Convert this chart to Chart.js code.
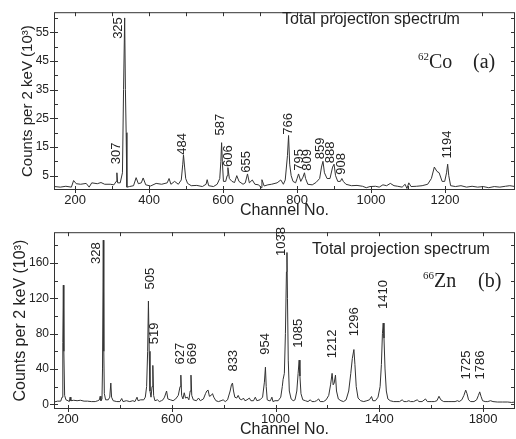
<!DOCTYPE html>
<html>
<head>
<meta charset="utf-8">
<script src="https://cdn.jsdelivr.net/npm/chart.js@4.4.0/dist/chart.umd.min.js"></script>
<style>
  body { margin: 0; background: #fff; }
  .panel { position: absolute; left: 0; width: 516px; }
  #co-wrap { top: 0; height: 220px; }
  #zn-wrap { top: 220px; height: 219px; }
</style>
</head>
<body>
<div class="panel" id="co-wrap"><canvas id="co-chart"></canvas></div>
<div class="panel" id="zn-wrap"><canvas id="zn-chart"></canvas></div>
<script>
// ---- panel (a): 62Co ----
const coChannels = [145,160,175,190,196,203,215,230,238,245,260,270,280,295,305,311,313,315,322,328,331,334,336,338,340,347,358,365,371,379,384,391,404,419,434,449,454,459,469,479,487,491,493,496,499,504,514,529,544,554,557,561,574,584,591,594,596,598,601,607,611,613,617,624,631,637,643,654,660,666,671,679,686,696,703,705,711,721,731,746,756,763,768,774,777,780,784,789,796,800,804,810,816,820,823,829,841,851,861,866,870,874,881,889,896,900,904,910,917,921,925,932,947,962,977,987,997,1012,1022,1032,1042,1052,1062,1072,1084,1092,1097,1102,1108,1123,1138,1153,1163,1171,1178,1184,1192,1199,1204,1207,1210,1215,1228,1243,1258,1273,1288,1303,1318,1333,1348,1363,1375,1389];
const coCounts = [1.2,1.0,1.3,1.0,3.3,2.2,2.0,2.3,1.0,2.5,2.2,2.6,2.0,2.0,1.8,3.0,6.0,2.5,2.5,6,35,60,35,20,1,1.2,1.5,4.3,2.2,2.5,4.2,1.8,1.4,2.3,2.0,2.5,4.0,2.0,3.0,2.0,3.5,9,12.2,8,4,2.3,1.5,1.6,1.2,2.0,3.6,1.5,1.2,2.0,4,10,16.5,10,3,3,5,7.8,4,3,2.6,5.0,3,2,2.5,5.6,2.5,3.5,2.0,1.8,0.8,3.6,1.4,1.8,2.0,2.5,3.5,2.0,3.5,12,19,9,5,3,2.5,4,5.6,3,4.5,6,4,2,1.8,2.6,4,8,10,6,4,4,8,9,5,3,3,4,3,2.0,1.5,1.6,1.3,0.8,1.2,1.3,1.0,1.8,1.5,2.3,1.5,1.3,1.0,2.0,0.5,2.5,1.2,1.3,1.5,2.0,4,8,6.5,6,3,3,6,9,5,1.5,1.2,1.5,1.0,1.3,1.0,1.2,0.8,1.2,1.0,1.3,1.5,1.2];
const coPeakLabels = ['307','325','484','587','606','655','766','795','809','859','888','908','1194'];
const coLabelChannel = [312,317,491,594,615,664,777,807,829,864,891,921,1207];
const coLabelCount = [9,52.7,12.3,19,8,6,19.3,6.7,6.7,10.7,9.3,5.3,11];
const coXTicks = [200,400,600,800,1000,1200];
const coYTicks = [5,15,25,35,45,55];
const coXMinor = [200,300,400,500,600,700,800,900,1000,1100,1200,1300];
const coYMinor = [5,10,15,20,25,30,35,40,45,50,55,60];

// ---- panel (b): 66Zn ----
const znChannels = [146,160,172,177,180,182,184,187,192,200,205,208,211,222,235,248,262,275,290,305,315,321,324,327,331,333,336,338,340,345,355,361,365,368,374,388,400,407,412,425,438,450,458,466,470,480,492,498,503,507,510,513,516,520,524,527,530,535,545,552,560,566,572,580,585,595,605,615,625,632,635,638,643,648,653,660,666,671,674,677,683,695,703,710,722,730,735,740,745,752,757,762,770,780,790,798,806,815,825,830,834,838,843,850,856,862,870,876,882,890,899,905,915,922,928,940,950,957,961,964,968,975,980,986,990,998,1010,1020,1026,1029,1034,1038,1042,1044,1046,1049,1053,1060,1068,1075,1082,1087,1091,1094,1098,1105,1115,1125,1134,1140,1150,1158,1166,1172,1185,1195,1205,1212,1218,1222,1226,1231,1235,1242,1252,1262,1272,1282,1290,1296,1302,1306,1311,1318,1328,1340,1352,1362,1370,1375,1385,1395,1403,1408,1412,1415,1418,1422,1427,1433,1442,1455,1468,1478,1488,1495,1505,1514,1520,1532,1546,1553,1565,1578,1585,1600,1612,1622,1630,1637,1648,1665,1680,1692,1701,1708,1718,1726,1733,1738,1744,1752,1765,1775,1782,1787,1792,1798,1808,1818,1829,1838,1855,1875,1895,1910,1923];
const znCounts = [2.5,3.5,3.5,8,70,135,60,10,5,4,3,8,4,4.5,4,4.5,3.5,3.5,3,3,4,5,9,4,6,40,186,60,12,5,5,8,24,8,4,3,3,6.5,3,4,3,4,3,8,4,5,5,8,20,60,117,60,15,8,20,44,10,4,5,3,4,5,8,15,6,5,4,6,10,20,33,10,6,13,7,8,5,15,33,10,5,4,7,4,6,12,15,16,9,10,12,8,4,3,4,5,3,5,15,22,24,15,8,7,10,6,5,7,4,5,7,4,4,8,4,5,8,25,42,20,5,4,4,8,3,4,4,8,20,28,35,80,150,172,120,50,15,6,4,5,15,35,50,32,12,5,4,3,5,3,3,4,6,3,3,5,10,22,35,22,24,33,15,6,4,3,5,15,35,52,62,45,20,7,4,3,4,5,8.7,4,4,8,20,45,80,92,75,40,15,6,4,3,3,3,5,3,3,4,3,3,5,3,3,6,3,3,3,4,9,5,3,3,3,3,4,3,5,10,16,12,5,3,3,5,10,14,9,4,3,3,4,3,2.5,2.5,2.5,2,2.5];
const znPeakLabels = ['328','505','519','627','669','833','954','1038','1085','1212','1296','1410','1725','1786'];
const znLabelChannel = [308,519,532,632,678,836,961,1021,1089,1218,1304,1417,1736,1791];
const znLabelCount = [159,130,68,45,45,37,56,168,64,52,77,108,28,28];
const znXTicks = [200,600,1000,1400,1800];
const znYTicks = [0,40,80,120,160];
const znXMinor = [200,400,600,800,1000,1200,1400,1600,1800];
const znYMinor = [0,20,40,60,80,100,120,140,160,180];

const SANS = '"Liberation Sans", Arial, sans-serif';
const SERIF = '"Liberation Serif", "Times New Roman", serif';
const INK = '#222';

// frame with ticks, peak labels and the in-plot captions
const spectrumDecor = {
  id: 'spectrumDecor',
  afterDraw(chart, args, o) {
    const {ctx, chartArea: a, scales: {x, y}} = chart;
    ctx.save();
    ctx.strokeStyle = '#333';
    ctx.lineWidth = 1;
    ctx.strokeRect(a.left + 0.5, a.top + 0.5, a.right - a.left - 1, a.bottom - a.top - 1);
    ctx.beginPath();
    // small inward ticks on all four sides
    o.xMinor.forEach(v => {
      const px = Math.round(x.getPixelForValue(v)) + 0.5;
      ctx.moveTo(px, a.top); ctx.lineTo(px, a.top + 4);
      ctx.moveTo(px, a.bottom); ctx.lineTo(px, a.bottom - 4);
    });
    o.yMinor.forEach(v => {
      const py = Math.round(y.getPixelForValue(v)) + 0.5;
      ctx.moveTo(a.left, py); ctx.lineTo(a.left + 4, py);
      ctx.moveTo(a.right, py); ctx.lineTo(a.right - 4, py);
    });
    // outward ticks at the labelled values
    x.ticks.forEach(t => {
      const px = Math.round(x.getPixelForValue(t.value)) + 0.5;
      ctx.moveTo(px, a.bottom); ctx.lineTo(px, a.bottom + 3);
    });
    y.ticks.forEach(t => {
      const py = Math.round(y.getPixelForValue(t.value)) + 0.5;
      ctx.moveTo(a.left, py); ctx.lineTo(a.left - 4, py);
    });
    ctx.stroke();

    ctx.fillStyle = INK;
    ctx.font = '13px ' + SANS;
    ctx.textAlign = 'left';
    ctx.textBaseline = 'middle';
    o.labels.forEach((t, i) => {
      ctx.save();
      ctx.translate(x.getPixelForValue(o.labelX[i]), y.getPixelForValue(o.labelY[i]));
      ctx.rotate(-Math.PI / 2);
      ctx.fillText(t, 0, 0);
      ctx.restore();
    });

    ctx.font = '16px ' + SANS;
    ctx.fillText('Total projection spectrum', o.caption[0], o.caption[1]);
    ctx.font = '11px ' + SERIF;
    ctx.fillText(o.mass, o.nucl[0], o.nucl[1] - 6);
    const w = ctx.measureText(o.mass).width;
    ctx.font = '20px ' + SERIF;
    ctx.fillText(o.element, o.nucl[0] + w, o.nucl[1]);
    ctx.fillText(o.tag, o.tagX, o.nucl[1]);
    ctx.restore();
  }
};

function makeChart(id, ch, counts, cfg) {
  return new Chart(document.getElementById(id), {
    type: 'line',
    data: {
      datasets: [{
        data: ch.map((c, i) => ({x: c, y: counts[i]})),
        borderColor: '#333',
        borderWidth: 1,
        pointRadius: 0,
        tension: 0
      }]
    },
    options: {
      responsive: true,
      maintainAspectRatio: false,
      animation: false,
      layout: {padding: {top: 5, right: 1, bottom: 0, left: 0}},
      plugins: {legend: {display: false}, tooltip: {enabled: false}, spectrumDecor: cfg.decor},
      scales: {
        x: {
          type: 'linear', min: cfg.xMin, max: cfg.xMax,
          afterBuildTicks: s => { s.ticks = cfg.xTicks.map(v => ({value: v})); },
          afterFit: s => { s.height = cfg.xHeight; },
          grid: {display: false, drawTicks: false},
          border: {display: false},
          ticks: {color: INK, font: {family: SANS, size: 13}, padding: 3, maxRotation: 0, autoSkip: false,
                  callback: v => String(v)},
          title: {display: true, text: 'Channel No.', color: INK, font: {family: SANS, size: 16}, padding: 0}
        },
        y: {
          min: cfg.yMin, max: cfg.yMax,
          afterBuildTicks: s => { s.ticks = cfg.yTicks.map(v => ({value: v})); },
          afterFit: s => { s.width = 54; },
          grid: {display: false, drawTicks: false},
          border: {display: false},
          ticks: {color: INK, font: {family: SANS, size: 12}, padding: 5, callback: v => String(v)},
          title: {display: true, text: 'Counts per 2 keV (10³)', color: INK,
                  font: {family: SANS, size: cfg.yTitleSize}, padding: {top: cfg.yTitlePad, bottom: 0}}
        }
      }
    },
    plugins: [spectrumDecor]
  });
}

makeChart('co-chart', coChannels, coCounts, {
  xMin: 143, xMax: 1389, yMin: 0, yMax: 62, xTicks: coXTicks, yTicks: coYTicks,
  xHeight: 30, yTitleSize: 15, yTitlePad: 19,
  decor: {labels: coPeakLabels, labelX: coLabelChannel, labelY: coLabelCount,
          xMinor: coXMinor, yMinor: coYMinor, caption: [282, 20], mass: '62', element: 'Co',
          tag: '(a)', nucl: [418, 63], tagX: 473}
});

makeChart('zn-chart', znChannels, znCounts, {
  xMin: 146, xMax: 1923, yMin: -5.4, yMax: 195, xTicks: znXTicks, yTicks: znYTicks,
  xHeight: 30, yTitleSize: 16, yTitlePad: 11,
  decor: {labels: znPeakLabels, labelX: znLabelChannel, labelY: znLabelCount,
          xMinor: znXMinor, yMinor: znYMinor, caption: [312, 30], mass: '66', element: 'Zn',
          tag: '(b)', nucl: [423, 62], tagX: 478}
});
</script>
</body>
</html>
